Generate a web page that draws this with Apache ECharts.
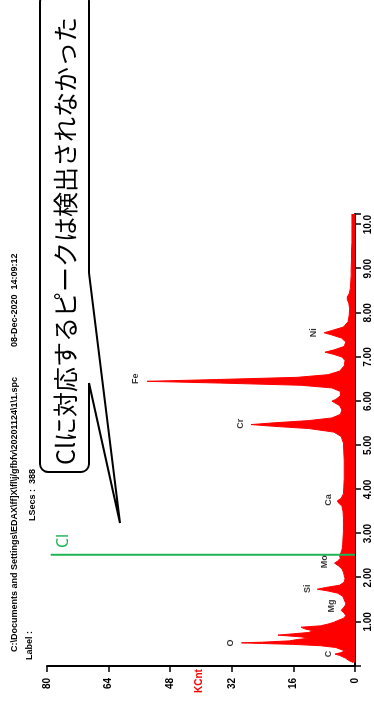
<!DOCTYPE html>
<html>
<head>
<meta charset="utf-8">
<script src="https://cdn.jsdelivr.net/npm/echarts@6/dist/echarts.min.js"></script>
<style>
html, body { margin: 0; padding: 0; width: 374px; height: 706px; overflow: hidden; background: #fff; }
/* the spectrum is laid out landscape and turned a quarter turn, like the scan */
#spec { position: absolute; left: 0; top: 0; width: 706px; height: 374px;
        transform-origin: 0 0; transform: translateY(706px) rotate(-90deg); }
</style>
</head>
<body>
<div id="spec"></div>
<script>
// keV and counts (KCnt)
var energy = [0.08, 0.12, 0.18, 0.24, 0.27, 0.30, 0.34, 0.38, 0.42, 0.46, 0.49, 0.51, 0.525, 0.54, 0.57, 0.60, 0.63, 0.66, 0.70, 0.73,
              0.76, 0.80, 0.84, 0.88, 0.91, 0.95, 0.99, 1.03, 1.08, 1.14, 1.20, 1.26, 1.30, 1.36, 1.42, 1.50, 1.58, 1.65, 1.70, 1.74,
              1.78, 1.83, 1.90, 1.98, 2.05, 2.12, 2.20, 2.27, 2.33, 2.38, 2.44, 2.50, 2.58, 2.66, 2.76, 2.90, 3.05, 3.20, 3.35, 3.50,
              3.62, 3.69, 3.74, 3.80, 3.90, 4.05, 4.25, 4.45, 4.65, 4.85, 5.05, 5.20, 5.30, 5.38, 5.43, 5.47, 5.51, 5.56, 5.62, 5.70,
              5.80, 5.90, 5.96, 6.00, 6.04, 6.12, 6.22, 6.30, 6.36, 6.41, 6.45, 6.49, 6.54, 6.60, 6.68, 6.80, 6.92, 7.00, 7.06, 7.11,
              7.16, 7.24, 7.34, 7.43, 7.50, 7.55, 7.60, 7.68, 7.80, 7.95, 8.10, 8.22, 8.30, 8.36, 8.44, 8.56, 8.70, 8.85, 9.00, 9.20,
              9.40, 9.60, 9.80, 10.00, 10.24];
var counts = [0.5, 1.5, 2.5, 4.0, 5.2, 3.8, 2.6, 3.0, 5.0, 9.0, 16, 24, 29.5, 24, 17, 15, 12, 14, 20, 16,
              12, 11, 13, 14, 9, 7, 5.5, 4.5, 3.0, 2.4, 2.8, 3.6, 3.3, 2.6, 2.4, 2.8, 3.2, 4.5, 7.0, 9.8,
              7.5, 4.0, 2.8, 2.6, 2.8, 3.0, 3.4, 4.3, 5.3, 4.5, 3.8, 4.0, 3.6, 3.3, 3.2, 3.1, 3.0, 3.0, 3.0, 3.1,
              3.4, 4.2, 4.6, 3.6, 3.0, 2.9, 2.8, 2.8, 2.8, 2.9, 3.0, 3.6, 5.5, 12, 21, 27, 21, 12, 6.0, 3.8,
              3.4, 4.0, 5.2, 6.0, 5.0, 3.8, 3.8, 6.0, 14, 35, 54, 36, 15, 7.0, 4.0, 2.8, 2.6, 3.4, 5.5, 7.8,
              5.5, 2.8, 2.4, 3.5, 6.0, 8.0, 6.0, 3.0, 1.8, 1.5, 1.4, 1.6, 2.0, 2.0, 1.5, 1.2, 1.1, 1.0, 1.0, 0.9,
              0.9, 0.8, 0.8, 0.8, 0.8];

// element markers
var elemNames = ['C', 'O', 'Mg', 'Si', 'Mo', 'Ca', 'Cr', 'Fe', 'Ni'];
var elemEnergy = [0.27, 0.52, 1.36, 1.75, 2.36, 3.76, 5.49, 6.51, 7.55];
var elemCount = [7.0, 32.4, 6.0, 12.4, 7.8, 7.0, 29.8, 57.0, 10.9];

// where Cl would be
var clEnergy = 2.52;
var clTop = 79;

var countTicks = [0, 16, 32, 48, 64, 80];

var chart = echarts.init(document.getElementById('spec'));

var bold = 'Liberation Sans';
var small = 'bold 9px "Liberation Sans"';

chart.setOption({
    animation: false,
    grid: { left: 40, right: 214, top: 47, bottom: 19 },
    xAxis: {
        type: 'value',
        min: 0, max: 10.24, interval: 1,
        axisLine: { lineStyle: { color: '#000', width: 2 } },
        axisTick: { length: 6, lineStyle: { color: '#000', width: 1.5 } },
        axisLabel: {
            color: '#000', fontWeight: 'bold', fontSize: 10, fontFamily: bold, margin: 8,
            formatter: function (v) {
                if (v === 0 || v > 10.1) return '';
                return v < 10 ? v.toFixed(2) : v.toFixed(1);
            }
        },
        splitLine: { show: false }
    },
    yAxis: {
        type: 'value',
        min: countTicks[0], max: countTicks[countTicks.length - 1], interval: 16,
        axisLine: { show: true, lineStyle: { color: '#000', width: 2 } },
        axisTick: { show: true, length: 6, lineStyle: { color: '#000', width: 1.5 } },
        axisLabel: { color: '#000', fontWeight: 'bold', fontSize: 10, fontFamily: bold, margin: 12 },
        splitLine: { show: false }
    },
    series: [
        {
            type: 'line',
            silent: true,
            showSymbol: false,
            data: energy.map(function (e, i) { return [e, counts[i]]; }),
            lineStyle: { color: '#ff0000', width: 1 },
            areaStyle: { color: '#ff0000', opacity: 1 },
            z: 2
        },
        {
            type: 'line',
            silent: true,
            showSymbol: false,
            data: [[clEnergy, 0], [clEnergy, clTop]],
            lineStyle: { color: '#1fb455', width: 2 },
            z: 3
        },
        {
            type: 'scatter',
            silent: true,
            symbolSize: 1,
            itemStyle: { color: 'rgba(0,0,0,0)' },
            data: elemNames.map(function (n, i) { return [elemEnergy[i], elemCount[i], n]; }),
            label: {
                show: true, position: 'inside', color: '#000',
                fontWeight: 'bold', fontSize: 9, fontFamily: bold,
                formatter: function (p) { return p.data[2]; }
            },
            z: 4
        }
    ],
    graphic: [
        { type: 'text', x: 54, y: 15, style: { text: 'C:\\Documents and Settings\\EDAX\\ff]X\\fl\\j/gfbfv\\20201124\\1\\1.spc', fill: '#000', font: small, verticalAlign: 'middle' } },
        { type: 'text', x: 359, y: 15, style: { text: '08-Dec-2020  14:09:12', fill: '#000', font: small, verticalAlign: 'middle' } },
        { type: 'text', x: 46, y: 30, style: { text: 'Label :', fill: '#000', font: small, verticalAlign: 'middle' } },
        { type: 'text', x: 185, y: 33, style: { text: 'LSecs :  388', fill: '#000', font: small, verticalAlign: 'middle' } },
        { type: 'text', x: 25, y: 199, style: { text: 'KCnt', fill: '#ff0000', font: 'bold 10px "Liberation Sans"', align: 'center', verticalAlign: 'middle' } },
        { type: 'text', x: 158, y: 63, style: { text: 'Cl', fill: '#1fb455', font: '16px "Noto Sans"', verticalAlign: 'middle' } },
        { type: 'rect', z: 10, shape: { x: 234, y: 40, width: 478, height: 49, r: 8 }, style: { fill: '#fff', stroke: '#000', lineWidth: 2 } },
        { type: 'polygon', z: 11, shape: { points: [[433, 87], [433, 89], [183, 120], [323, 89], [323, 87]] }, style: { fill: '#fff' } },
        { type: 'polyline', z: 12, shape: { points: [[433, 89], [183, 120], [323, 89]] }, style: { fill: null, stroke: '#000', lineWidth: 2 } },
        { type: 'text', z: 13, x: 241, y: 65, style: { text: 'Clに対応するピークは検出されなかった', fill: '#000', font: '25px "Noto Sans CJK JP"', verticalAlign: 'middle' } }
    ]
});
</script>
</body>
</html>
